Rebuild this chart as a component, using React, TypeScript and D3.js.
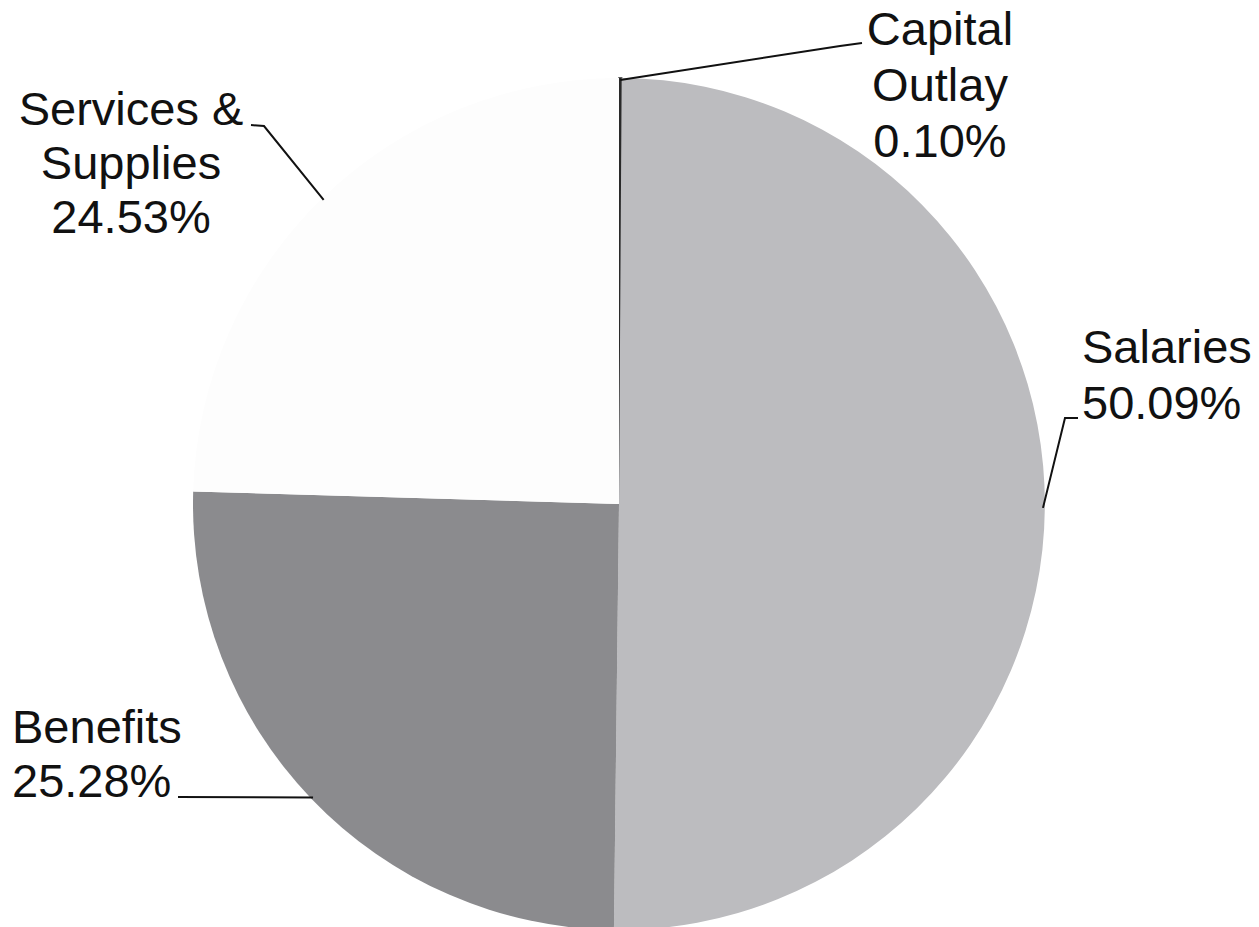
import React from "react";
import * as d3 from "d3";

const categories = ["Capital Outlay", "Salaries", "Benefits", "Services & Supplies"];
const values = [0.1, 50.09, 25.28, 24.53];
const valueLabels = ["0.10%", "50.09%", "25.28%", "24.53%"];
const colors = ["#2a2a2a", "#bcbcbf", "#8b8b8e", "#fdfdfd"];

// label text lines
const labelLines = [
  ["Capital", "Outlay", "0.10%"],
  ["Salaries", "50.09%"],
  ["Benefits", "25.28%"],
  ["Services &", "Supplies", "24.53%"],
];

const W = 1259;
const H = 927;
const CX = 619;
const CY = 504;
const R = 426;

const layout = [
  { x: 940, y: 45, anchor: "middle", lh: 56, leader: [[840, 46], [862, 43]] },
  { x: 1082, y: 363, anchor: "start", lh: 56, leader: [[1065, 418], [1078, 418]] },
  { x: 12, y: 743, anchor: "start", lh: 54, leader: [[178, 797]] },
  { x: 131, y: 125, anchor: "middle", lh: 54, leader: [[264, 126], [251, 125]] },
];

export default function App() {
  const pie = d3
    .pie<number>()
    .sort(null)
    .value((d) => d);
  const arcs = pie(values);
  const arc = d3.arc<d3.PieArcDatum<number>>().innerRadius(0).outerRadius(R);
  const edge = d3.arc<d3.PieArcDatum<number>>().innerRadius(R - 2).outerRadius(R - 2);
  const line = d3.line();

  return (
    <svg
      width={W}
      height={H}
      viewBox={`0 0 ${W} ${H}`}
      style={{ position: "absolute", left: 0, top: 0, background: "#ffffff" }}
    >
      <rect x={0} y={0} width={W} height={H} fill="#ffffff" />
      <g transform={`translate(${CX},${CY})`}>
        {arcs.map((a, i) => (
          <path
            key={categories[i]}
            d={arc(a) || ""}
            fill={colors[i]}
            stroke={i === 0 ? "#2a2a2a" : "none"}
            strokeWidth={i === 0 ? 1.5 : 0}
          />
        ))}
      </g>
      {arcs.map((a, i) => {
        const [ex, ey] = edge.centroid(a);
        const pts: [number, number][] = [[ex + CX, ey + CY], ...(layout[i].leader as [number, number][])];
        return <path key={"l" + i} d={line(pts) || ""} fill="none" stroke="#111" strokeWidth={2} />;
      })}
      {labelLines.map((lines, i) => (
        <text
          key={"t" + i}
          x={layout[i].x}
          y={layout[i].y}
          textAnchor={layout[i].anchor as any}
          fontFamily="'Liberation Sans', Arial, sans-serif"
          fontSize={47}
          fill="#111"
        >
          {lines.map((s, j) => (
            <tspan key={j} x={layout[i].x} dy={j === 0 ? 0 : layout[i].lh}>
              {s}
            </tspan>
          ))}
        </text>
      ))}
    </svg>
  );
}
